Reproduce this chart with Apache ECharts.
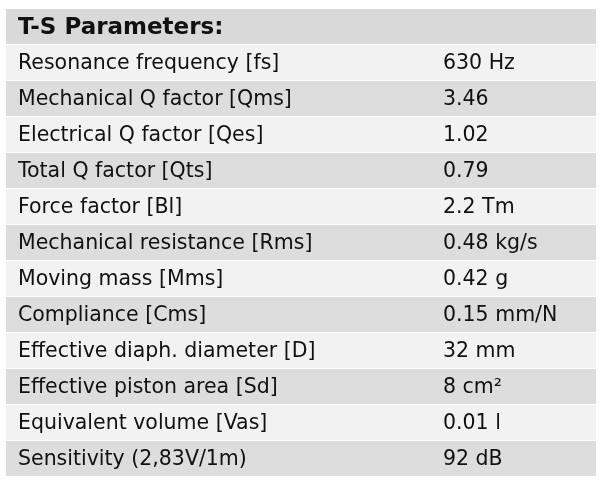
<!DOCTYPE html>
<html>
<head>
<meta charset="utf-8">
<script src="https://cdn.jsdelivr.net/npm/echarts@6/dist/echarts.min.js"></script>
<style>html,body{margin:0;background:#fff}#chart{width:600px;height:488px}</style>
</head>
<body>
<div id="chart"></div>
<script>
var title = 'T-S Parameters:';
var params = ['Resonance frequency [fs]', 'Mechanical Q factor [Qms]', 'Electrical Q factor [Qes]',
    'Total Q factor [Qts]', 'Force factor [Bl]', 'Mechanical resistance [Rms]', 'Moving mass [Mms]',
    'Compliance [Cms]', 'Effective diaph. diameter [D]', 'Effective piston area [Sd]',
    'Equivalent volume [Vas]', 'Sensitivity (2,83V/1m)'];
var values = ['630 Hz', '3.46', '1.02', '0.79', '2.2 Tm', '0.48 kg/s', '0.42 g', '0.15 mm/N',
    '32 mm', '8 cm²', '0.01 l', '92 dB'];

var rows = [title].concat(params);
var chart = echarts.init(document.getElementById('chart'));

chart.setOption({
    animation: false,
    grid: { left: 6, right: 4, top: 9, bottom: 11 },
    xAxis: { type: 'value', min: 0, max: 1, show: false },
    yAxis: { type: 'category', data: rows, inverse: true, show: false },
    series: [{
        type: 'custom',
        data: rows.map(function (r, i) { return [0, i]; }),
        renderItem: function (params, api) {
            var i = api.value(1);
            var p0 = api.coord([0, i]);
            var p1 = api.coord([1, i]);
            var h = api.size([0, 1])[1];
            var top = p0[1] - h / 2;
            var fill = i == 0 ? '#d9d9d9' : (i % 2 == 1 ? '#f2f2f2' : '#dddddd');
            var kids = [{
                type: 'rect',
                shape: { x: p0[0], y: top, width: p1[0] - p0[0], height: h - 1 },
                style: { fill: fill }
            }, {
                type: 'text',
                style: {
                    x: p0[0] + 12, y: p0[1] + 1, text: rows[i],
                    fill: '#111', verticalAlign: 'middle',
                    font: (i == 0 ? 'bold 23px' : '20.5px') + ' "DejaVu Sans"'
                }
            }];
            if (i > 0) {
                kids.push({
                    type: 'text',
                    style: {
                        x: 443, y: p0[1] + 1, text: values[i - 1],
                        fill: '#111', verticalAlign: 'middle', font: '20.5px "DejaVu Sans"'
                    }
                });
            }
            return { type: 'group', children: kids };
        }
    }]
});
</script>
</body>
</html>
